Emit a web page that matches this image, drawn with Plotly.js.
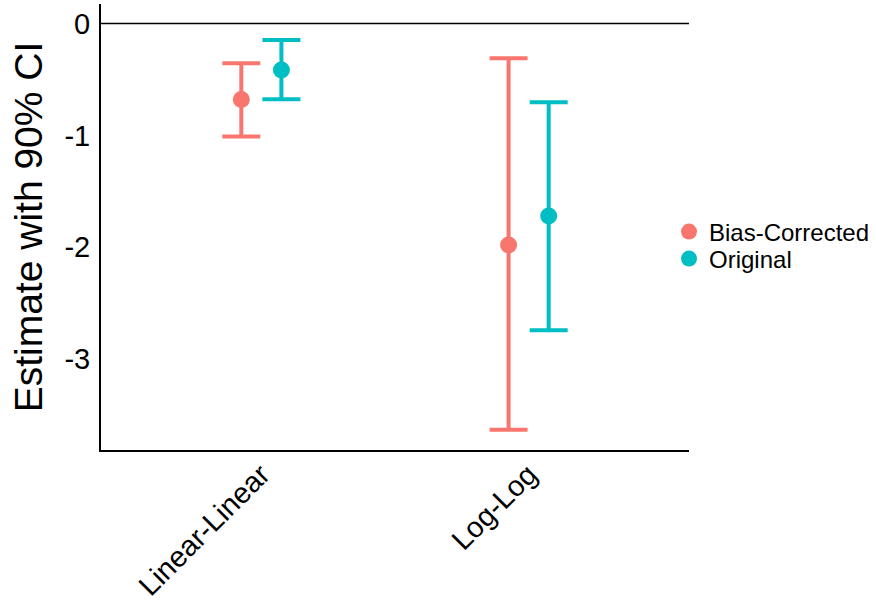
<!DOCTYPE html>
<html>
<head>
<meta charset="utf-8">
<script src="https://cdn.plot.ly/plotly-3.0.1.min.js"></script>
<style>html,body{margin:0;padding:0;background:#fff;}#chart{width:876px;height:602px;}</style>
</head>
<body>
<div id="chart"></div>
<script>
// Data
var categories = ["Linear-Linear", "Log-Log"];
var seriesNames = ["Bias-Corrected", "Original"];
var biasEstimate = [-0.68, -1.98];
var biasLower = [-1.01, -3.63];
var biasUpper = [-0.356, -0.31];
var origEstimate = [-0.415, -1.72];
var origLower = [-0.677, -2.74];
var origUpper = [-0.147, -0.704];
var yTickVals = [0, -1, -2, -3];
var yTickText = ["0", "-1", "-2", "-3"];

var colors = ["#F8766D", "#00BFC4"];
var dodge = 0.075;

function makeTrace(name, est, lo, hi, color, offset, legendId) {
  return {
    type: "scatter",
    mode: "markers",
    name: name,
    legend: legendId,
    x: categories.map(function (c, i) { return i + offset; }),
    y: est,
    marker: { color: color, size: 17 },
    error_y: {
      type: "data",
      symmetric: false,
      array: hi.map(function (h, i) { return h - est[i]; }),
      arrayminus: lo.map(function (l, i) { return est[i] - l; }),
      color: color,
      thickness: 4,
      width: 19
    },
    hoverinfo: "skip"
  };
}

var data = [
  makeTrace(seriesNames[0], biasEstimate, biasLower, biasUpper, colors[0], -dodge, "legend"),
  makeTrace(seriesNames[1], origEstimate, origLower, origUpper, colors[1], dodge, "legend2")
];

var font = "Liberation Sans, Arial, Helvetica, sans-serif";
var legendFont = { family: font, size: 24, color: "#000" };

var layout = {
  width: 876,
  height: 602,
  margin: { l: 101, r: 187, t: 4, b: 152, autoexpand: false },
  paper_bgcolor: "#ffffff",
  plot_bgcolor: "#ffffff",
  font: { family: font, color: "#000000" },
  showlegend: true,
  legend: {
    x: 0.966, xanchor: "left",
    y: 0.4888, yanchor: "middle",
    font: legendFont,
    bgcolor: "rgba(0,0,0,0)",
    itemclick: false
  },
  legend2: {
    x: 0.966, xanchor: "left",
    y: 0.4283, yanchor: "middle",
    font: legendFont,
    bgcolor: "rgba(0,0,0,0)",
    itemclick: false
  },
  xaxis: {
    range: [-0.6, 1.6],
    tickmode: "array",
    tickvals: categories.map(function (c, i) { return i; }),
    ticktext: categories,
    tickangle: -45,
    tickfont: { family: font, size: 29, color: "#000" },
    ticklabelstandoff: -6,
    showgrid: false,
    zeroline: false,
    showline: true,
    linecolor: "#000",
    linewidth: 2,
    ticks: "",
    fixedrange: true
  },
  yaxis: {
    range: [-3.811, 0.174],
    tickmode: "array",
    tickvals: yTickVals,
    ticktext: yTickText,
    tickfont: { family: font, size: 29, color: "#000" },
    title: { text: "Estimate with 90% CI", font: { family: font, size: 39, color: "#000" }, standoff: 10 },
    showgrid: false,
    zeroline: false,
    showline: true,
    linecolor: "#000",
    linewidth: 2,
    ticks: "outside",
    ticklen: 3,
    tickcolor: "rgba(0,0,0,0)",
    fixedrange: true
  },
  shapes: [{
    type: "line", xref: "paper", x0: 0, x1: 1, yref: "y", y0: 0, y1: 0,
    line: { color: "#000", width: 1.5 }, layer: "below"
  }]
};

Plotly.newPlot("chart", data, layout, { displayModeBar: false, staticPlot: true });
</script>
</body>
</html>
